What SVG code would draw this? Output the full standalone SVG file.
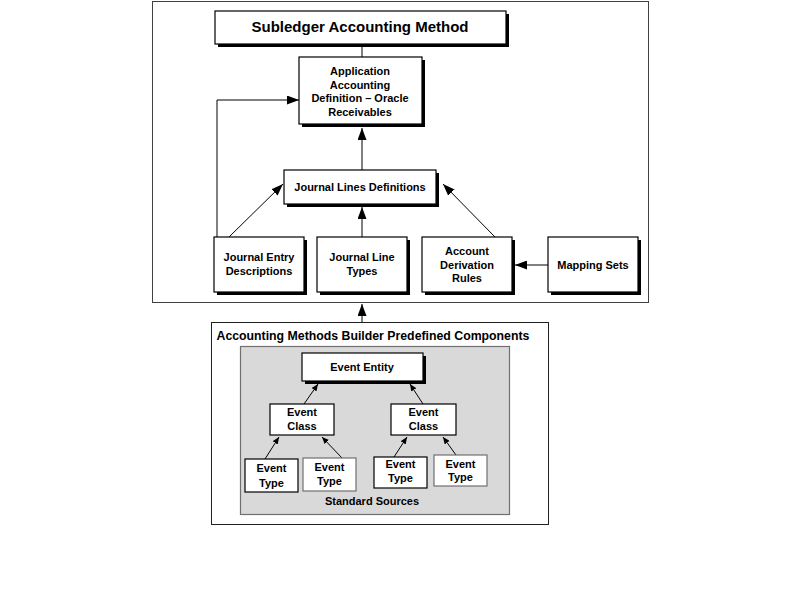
<svg xmlns="http://www.w3.org/2000/svg" width="799" height="599" viewBox="0 0 799 599">
<style>
  .t { font-family: "Liberation Sans", Arial, sans-serif; font-weight: bold; fill: #000; text-anchor: middle; }
  .s11 { font-size: 11px; }
  .box { fill: #fff; stroke: #000; stroke-width: 1.2; }
  .shadow { fill: #000; }
  .gbox { fill: #fff; stroke: #707070; stroke-width: 1.2; }
  .conn { fill: none; stroke: #000; stroke-width: 1; }
</style>
<defs>
  <marker id="arr" markerUnits="userSpaceOnUse" markerWidth="12" markerHeight="9" refX="12" refY="4.5" orient="auto">
    <path d="M0,0 L12,4.5 L0,9 z" fill="#000"/>
  </marker>
  <marker id="arrs" markerUnits="userSpaceOnUse" markerWidth="7" markerHeight="6" refX="7" refY="3" orient="auto">
    <path d="M0,0 L7,3 L0,6 z" fill="#000"/>
  </marker>
</defs>
<rect width="799" height="599" fill="#fff"/>

<g id="outer-frame">
  <rect x="152.5" y="1.5" width="496" height="301" fill="none" stroke="#404040" stroke-width="1"/>
</g>

<g id="amb-frame">
  <rect x="211.5" y="322.5" width="337" height="202" fill="#fff" stroke="#202020" stroke-width="1"/>
  <text class="t" x="216.5" y="339.5" font-size="12.3" style="text-anchor:start">Accounting Methods Builder Predefined Components</text>
  <rect x="240.5" y="346.5" width="269" height="168" fill="#d9d9d9" stroke="#707070" stroke-width="1.2"/>
  <text class="t s11" x="372" y="505">Standard Sources</text>
</g>

<g id="connectors">
  <path class="conn" d="M362,47 V57"/>
  <path class="conn" d="M362,170 V128" marker-end="url(#arr)"/>
  <path class="conn" d="M217,237 V100 H299" marker-end="url(#arr)"/>
  <path class="conn" d="M229,237 L283,184" marker-end="url(#arr)"/>
  <path class="conn" d="M362,237 V207" marker-end="url(#arr)"/>
  <path class="conn" d="M495,237 L443,184" marker-end="url(#arr)"/>
  <path class="conn" d="M548,265 H515" marker-end="url(#arr)"/>
  <path class="conn" d="M362,322 V304" marker-end="url(#arr)"/>
  <path class="conn" d="M304,404 L318,384" marker-end="url(#arrs)"/>
  <path class="conn" d="M423,404 L410,384" marker-end="url(#arrs)"/>
  <path class="conn" d="M265,459 L279,437" marker-end="url(#arrs)"/>
  <path class="conn" d="M342,458 L322,437" marker-end="url(#arrs)"/>
  <path class="conn" d="M394,457 L407,437" marker-end="url(#arrs)"/>
  <path class="conn" d="M456,455 L443,437" marker-end="url(#arrs)"/>
</g>

<g id="subledger-method">
  <rect class="shadow" x="218" y="14" width="291" height="33"/>
  <rect class="box" x="215" y="11" width="291" height="33"/>
  <text class="t" x="360" y="32" font-size="15">Subledger Accounting Method</text>
</g>

<g id="aad">
  <rect class="shadow" x="302" y="60" width="123" height="67"/>
  <rect class="box" x="299" y="57" width="123" height="67"/>
  <text class="t s11" x="360" y="75">Application</text>
  <text class="t s11" x="360" y="88.5">Accounting</text>
  <text class="t s11" x="360" y="102">Definition – Oracle</text>
  <text class="t s11" x="360" y="115.5">Receivables</text>
</g>

<g id="jld">
  <rect class="shadow" x="287" y="173" width="152" height="34"/>
  <rect class="box" x="284" y="170" width="152" height="34"/>
  <text class="t s11" x="360" y="191">Journal Lines Definitions</text>
</g>

<g id="jed">
  <rect class="shadow" x="217" y="240" width="90" height="55"/>
  <rect class="box" x="214" y="237" width="90" height="55"/>
  <text class="t s11" x="259" y="261">Journal Entry</text>
  <text class="t s11" x="259" y="275">Descriptions</text>
</g>

<g id="jlt">
  <rect class="shadow" x="320" y="240" width="90" height="55"/>
  <rect class="box" x="317" y="237" width="90" height="55"/>
  <text class="t s11" x="362" y="261">Journal Line</text>
  <text class="t s11" x="362" y="275">Types</text>
</g>

<g id="adr">
  <rect class="shadow" x="425" y="240" width="90" height="55"/>
  <rect class="box" x="422" y="237" width="90" height="55"/>
  <text class="t s11" x="467" y="255">Account</text>
  <text class="t s11" x="467" y="269">Derivation</text>
  <text class="t s11" x="467" y="282">Rules</text>
</g>

<g id="mapping-sets">
  <rect class="shadow" x="551" y="240" width="90" height="55"/>
  <rect class="box" x="548" y="237" width="90" height="55"/>
  <text class="t s11" x="593" y="269">Mapping Sets</text>
</g>

<g id="event-entity">
  <rect class="shadow" x="305" y="356" width="121" height="28"/>
  <rect class="box" x="302" y="353" width="121" height="28"/>
  <text class="t s11" x="362" y="371">Event Entity</text>
</g>

<g id="event-class-1">
  <rect class="box" x="270" y="404" width="64" height="31"/>
  <text class="t s11" x="302" y="416">Event</text>
  <text class="t s11" x="302" y="430">Class</text>
</g>

<g id="event-class-2">
  <rect class="box" x="391" y="404" width="65" height="31"/>
  <text class="t s11" x="423.5" y="416">Event</text>
  <text class="t s11" x="423.5" y="430">Class</text>
</g>

<g id="event-type-1">
  <rect class="box" x="245" y="459" width="53" height="33"/>
  <text class="t s11" x="271.5" y="472">Event</text>
  <text class="t s11" x="271.5" y="487">Type</text>
</g>

<g id="event-type-2">
  <rect class="gbox" x="303" y="458" width="53" height="33"/>
  <text class="t s11" x="329.5" y="471">Event</text>
  <text class="t s11" x="329.5" y="485">Type</text>
</g>

<g id="event-type-3">
  <rect class="box" x="374" y="457" width="53" height="31"/>
  <text class="t s11" x="400.5" y="468">Event</text>
  <text class="t s11" x="400.5" y="482">Type</text>
</g>

<g id="event-type-4">
  <rect class="gbox" x="434" y="455" width="53" height="31"/>
  <text class="t s11" x="460.5" y="468">Event</text>
  <text class="t s11" x="460.5" y="481">Type</text>
</g>
</svg>
